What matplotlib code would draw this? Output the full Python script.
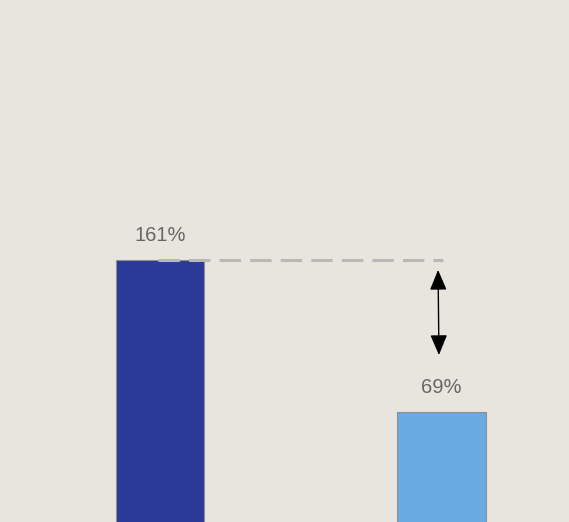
import matplotlib
matplotlib.use("Agg")
import matplotlib.pyplot as plt

categories = ["A", "B"]
values = [161, 69]
labels = ["161%", "69%"]
colors = ["#2b3a97", "#6aaae3"]

BG = "#e8e5df"
TXT = "#666666"

fig = plt.figure(figsize=(5.69, 5.22), dpi=100, facecolor=BG)
ax = fig.add_axes([0, 0, 1, 1], facecolor=BG)
x = list(range(len(categories)))
ax.bar(x, values, width=0.313, color=colors, edgecolor="#8f8f8f", linewidth=0.8)
ax.set_xlim(-0.568, 1.453)
ax.set_ylim(2.4, 318.4)
ax.axis("off")

for xi, v, lab in zip(x, values, labels):
    ax.text(xi, v + 15, lab, ha="center", va="center", fontsize=14.5,
            color=TXT, family="Liberation Sans", fontweight="medium")

# dashed reference line at the first value
ax.plot([-0.007, 1.005], [values[0], values[0]], ls=(0, (7, 3)), color="#b8b8b8",
        lw=2.2, zorder=3)

# double arrow showing the gap
ax.annotate("", xy=(0.988, 155), xytext=(0.991, 103.5),
            arrowprops=dict(arrowstyle="<|-|>,head_length=0.62,head_width=0.26",
                            color="black", lw=1.0, mutation_scale=20,
                            shrinkA=0, shrinkB=0))

fig.savefig("out.png", dpi=100, facecolor=BG)
